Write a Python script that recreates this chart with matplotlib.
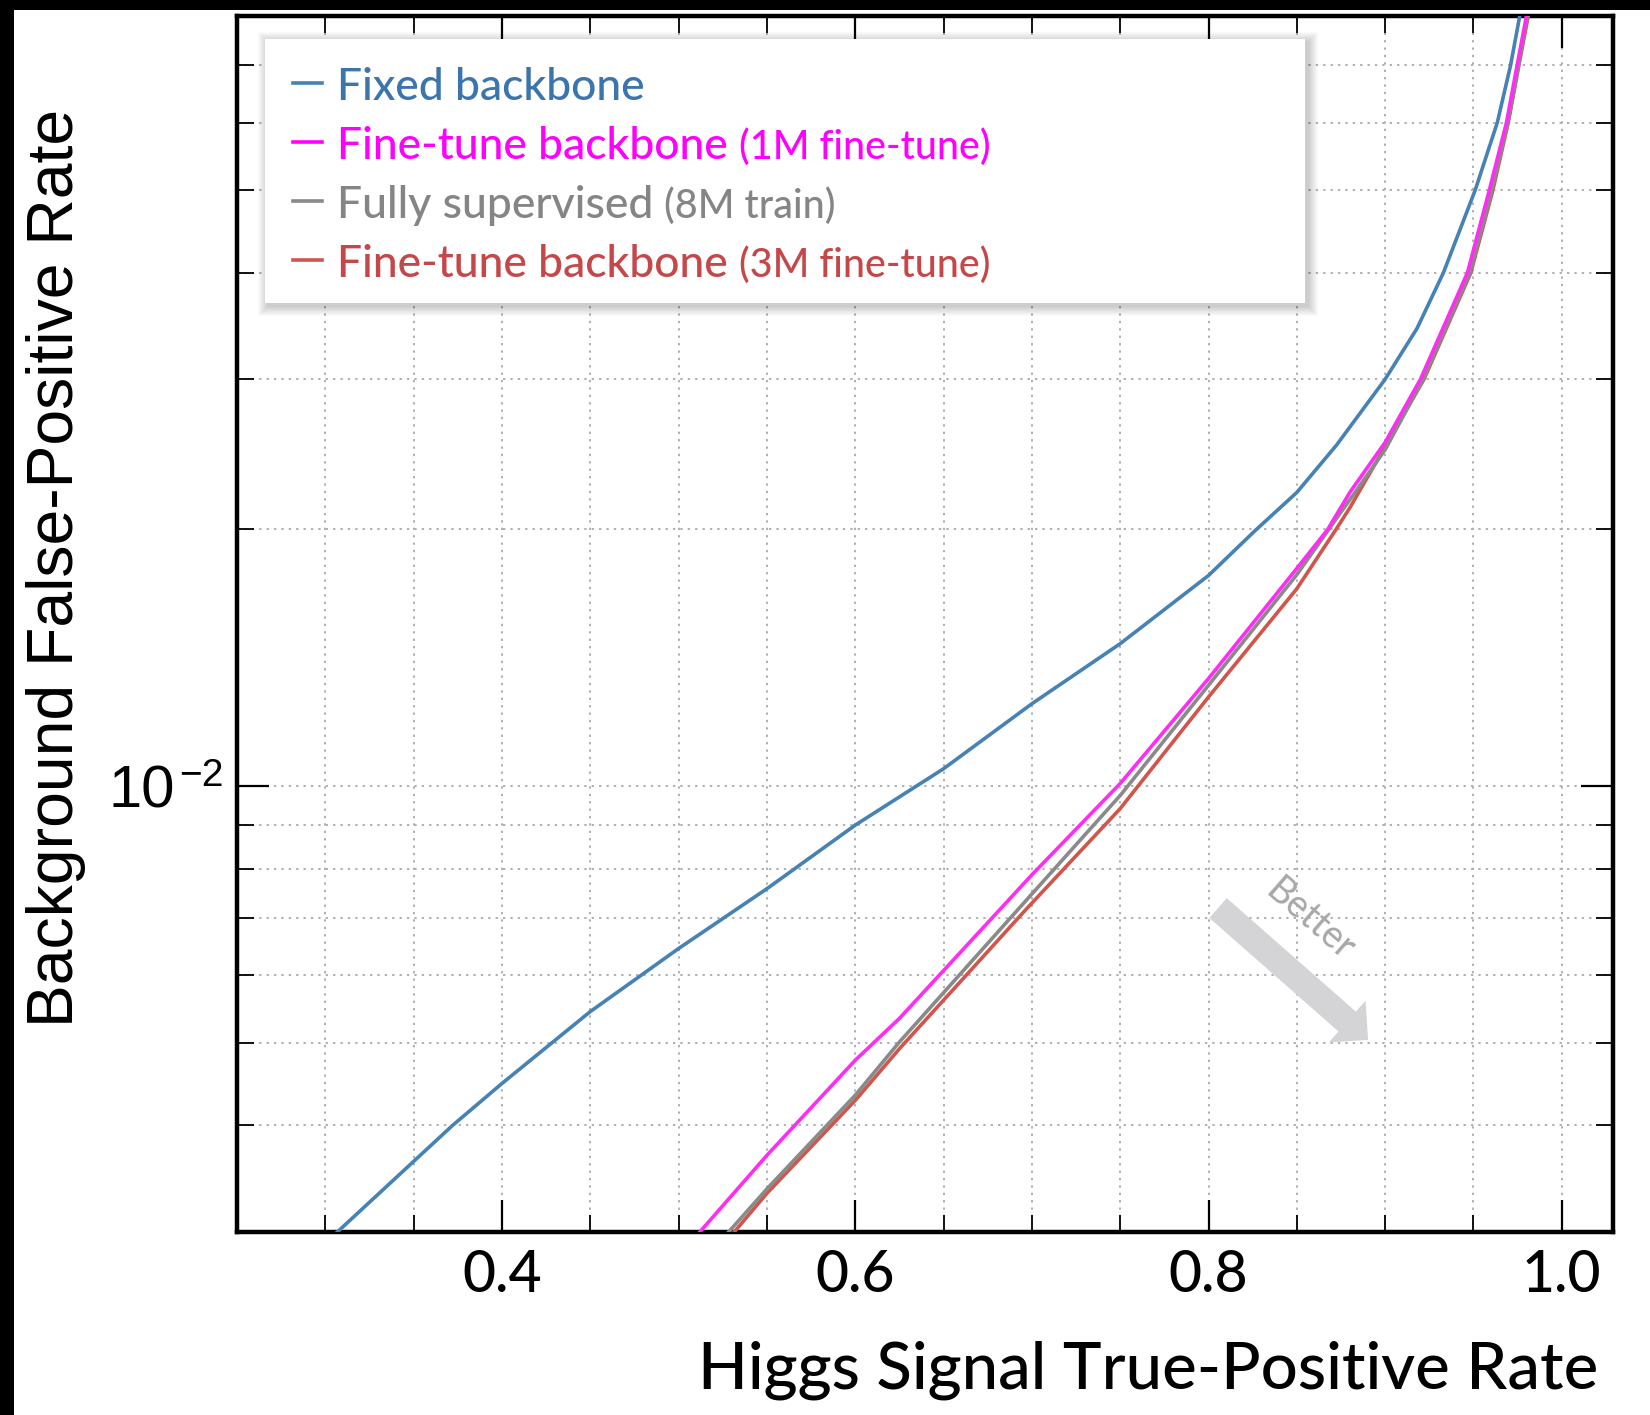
import matplotlib
matplotlib.use("Agg")
import matplotlib.pyplot as plt
from matplotlib.patches import Rectangle, FancyArrowPatch, ArrowStyle
from matplotlib.lines import Line2D
from matplotlib.ticker import MultipleLocator, FixedLocator, FixedFormatter, NullFormatter

# ---------------------------------------------------------------- data
tpr_fixed = [0.3068, 0.35, 0.372, 0.40, 0.45, 0.50, 0.55, 0.60, 0.65, 0.70, 0.75,
             0.80, 0.826, 0.85, 0.8724, 0.90, 0.918, 0.933, 0.951, 0.9635, 0.971,
             0.9762]
fpr_fixed = [3.0e-3, 3.63e-3, 4.0e-3, 4.48e-3, 5.44e-3, 6.45e-3, 7.58e-3, 9.0e-3,
             1.048e-2, 1.249e-2, 1.469e-2, 1.766e-2, 1.99e-2, 2.21e-2, 2.51e-2,
             3.0e-2, 3.44e-2, 4.0e-2, 5.0e-2, 6.0e-2, 7.0e-2, 8.0e-2]

tpr_ft1m = [0.512, 0.55, 0.60, 0.625, 0.70, 0.75, 0.80, 0.85, 0.8675, 0.88,
            0.90, 0.920, 0.9466, 0.959, 0.9687, 0.9747, 0.980]
fpr_ft1m = [3.0e-3, 3.69e-3, 4.77e-3, 5.34e-3, 7.87e-3, 1.007e-2, 1.337e-2,
            1.80e-2, 2.0e-2, 2.21e-2, 2.53e-2, 3.0e-2, 4.0e-2, 5.0e-2, 6.0e-2,
            7.0e-2, 8.0e-2]

tpr_full = [0.5283, 0.55, 0.60, 0.625, 0.6925, 0.75, 0.80, 0.85, 0.90, 0.9215,
            0.948, 0.9605, 0.9695, 0.9755, 0.9805]
fpr_full = [3.0e-3, 3.37e-3, 4.34e-3, 5.01e-3, 7.18e-3, 9.75e-3, 1.313e-2, 1.77e-2,
            2.48e-2, 3.0e-2, 4.0e-2, 5.0e-2, 6.0e-2, 7.0e-2, 8.0e-2]

tpr_ft3m = [0.5315, 0.55, 0.60, 0.625, 0.697, 0.75, 0.80, 0.85, 0.8722, 0.880,
            0.922, 0.9485, 0.961, 0.9697, 0.9757, 0.981]
fpr_ft3m = [3.0e-3, 3.33e-3, 4.28e-3, 4.92e-3, 7.18e-3, 9.41e-3, 1.272e-2, 1.704e-2,
            2.0e-2, 2.12e-2, 3.0e-2, 4.0e-2, 5.0e-2, 6.0e-2, 7.0e-2, 8.0e-2]

legend_main = ["Fixed backbone", "Fine-tune backbone", "Fully supervised",
               "Fine-tune backbone"]
legend_note = ["", "(1M fine-tune)", "(8M train)", "(3M fine-tune)"]

x_major = [0.4, 0.6, 0.8, 1.0]
x_major_labels = ["0.4", "0.6", "0.8", "1.0"]
y_major = [1e-2]
y_major_base = ["10"]
y_major_exp = ["\u22122"]

x_label = "Higgs Signal True-Positive Rate"
y_label = "Background False-Positive Rate"
arrow_text = "Better"

# ---------------------------------------------------------------- style
C_BLUE, C_MAG, C_GRAY, C_RED = "#4682b4", "#ff2cf4", "#8a8a8a", "#d0554b"
T_BLUE, T_MAG, T_GRAY, T_RED = "#3c74ad", "#ff00ff", "#858585", "#c5474a"
SANS_NARROW = ["Lato", "DejaVu Sans"]
SANS_ARIAL = ["Liberation Sans", "DejaVu Sans"]
TEXT_WEIGHT = 500

W, H, DPI = 1650, 1415, 100
fig = plt.figure(figsize=(W / DPI, H / DPI), dpi=DPI, facecolor="white")

# plot area in pixels (left, top, right, bottom)
AX_L, AX_T, AX_R, AX_B = 237, 16, 1613, 1232
ax = fig.add_axes([AX_L / W, 1 - AX_B / H, (AX_R - AX_L) / W, (AX_B - AX_T) / H])

LW = 2.6
ax.plot(tpr_ft3m, fpr_ft3m, color=C_RED, lw=LW, zorder=3)
ax.plot(tpr_full, fpr_full, color=C_GRAY, lw=LW, zorder=4)
ax.plot(tpr_ft1m, fpr_ft1m, color=C_MAG, lw=LW, zorder=5)
ax.plot(tpr_fixed, fpr_fixed, color=C_BLUE, lw=LW, zorder=6)

ax.set_yscale("log")
ax.set_xlim(0.25, 1.029)
ax.set_ylim(3.0e-3, 8.0e-2)

ax.xaxis.set_major_locator(FixedLocator(x_major))
ax.xaxis.set_major_formatter(FixedFormatter(x_major_labels))
ax.xaxis.set_minor_locator(MultipleLocator(0.05))
ax.yaxis.set_major_locator(FixedLocator(y_major))
ax.yaxis.set_major_formatter(NullFormatter())
ax.yaxis.set_minor_formatter(NullFormatter())

ax.tick_params(which="both", direction="in", top=True, right=True, color="black")
ax.tick_params(which="major", length=23, width=1.6)
ax.tick_params(which="minor", length=12, width=1.3)
ax.tick_params(axis="x", which="major", labelsize=41, pad=12,
               labelfontfamily="Lato")
for lab in ax.get_xticklabels():
    lab.set_fontweight(TEXT_WEIGHT)

# power-of-ten label on the y axis: base and raised exponent
for val, base, exp in zip(y_major, y_major_base, y_major_exp):
    ax.annotate(base, xy=(0, val), xycoords=("axes fraction", "data"),
                xytext=(-62, -21), textcoords="offset pixels", ha="right",
                va="baseline", fontsize=43, family=SANS_ARIAL, color="black",
                annotation_clip=False)
    ax.annotate(exp, xy=(0, val), xycoords=("axes fraction", "data"),
                xytext=(-58, 0), textcoords="offset pixels", ha="left",
                va="baseline", fontsize=28, family=SANS_ARIAL, color="black",
                annotation_clip=False)

for s in ax.spines.values():
    s.set_linewidth(3.2)
    s.set_color("black")

ax.grid(True, which="both", color="#b0b0b0", linestyle=(0, (1.2, 2.6)),
        linewidth=1.4, zorder=0)
ax.set_axisbelow(True)

# "Better" arrow
ax.add_patch(FancyArrowPatch(
    posA=(0.713, 0.2664), posB=(0.822, 0.158), transform=ax.transAxes,
    arrowstyle=ArrowStyle.Simple(head_length=20, head_width=40, tail_width=19),
    mutation_scale=1, color="#d4d4d6", lw=0, shrinkA=0, shrinkB=0, zorder=2))
ax.text(0.780, 0.2566, arrow_text, transform=ax.transAxes, rotation=-41,
        rotation_mode="anchor", ha="center", va="center", fontsize=27,
        color="#a8a8a8", family=SANS_NARROW, zorder=2)

# ---------------------------------------------------------------- text helpers
renderer = fig.canvas.get_renderer()


def fit_size(text, target_px, family, weight="normal"):
    probe = fig.text(0, 0, text, fontsize=20, family=family, fontweight=weight)
    w = probe.get_window_extent(renderer=renderer).width
    probe.remove()
    return 20.0 * target_px / w


def fx(px):
    return px / W


def fy(py):
    return 1 - py / H


def px_rect(x0, y0, x1, y1, **kw):
    return Rectangle((fx(x0), fy(y1)), (x1 - x0) / W, (y1 - y0) / H,
                     transform=fig.transFigure, **kw)


# axis titles
xl_size = fit_size(x_label, 902, SANS_NARROW, TEXT_WEIGHT)
fig.text(fx(1598), fy(1389), x_label, ha="right", va="baseline",
         fontsize=xl_size, family=SANS_NARROW, fontweight=TEXT_WEIGHT,
         color="black")
yl_size = fit_size(y_label, 915, SANS_ARIAL)
fig.text(fx(56), fy(568), y_label, ha="center", va="center", rotation=90,
         fontsize=yl_size, family=SANS_ARIAL, color="black")

# legend panel with soft shadow
BX0, BY0, BX1, BY1 = 265, 39, 1305, 303
for k in range(10, 0, -1):
    fig.add_artist(px_rect(BX0 - k + 3, BY0 - k + 3, BX1 + k + 3, BY1 + k + 3,
                           facecolor="black", alpha=0.02, lw=0, zorder=5))
fig.add_artist(px_rect(BX0, BY0, BX1, BY1, facecolor="white", lw=0, zorder=6))

main_size = fit_size("Fine-tune backbone", 392, SANS_NARROW, TEXT_WEIGHT)
note_size = fit_size("(1M fine-tune)", 252, SANS_NARROW, TEXT_WEIGHT)
text_colors = [T_BLUE, T_MAG, T_GRAY, T_RED]
dash_colors = [C_BLUE, T_MAG, C_GRAY, C_RED]
baselines = [100, 159, 218, 277]
for main, note, tc, dc, yb in zip(legend_main, legend_note, text_colors,
                                  dash_colors, baselines):
    fig.add_artist(Line2D([fx(293), fx(322)], [fy(yb - 17), fy(yb - 17)],
                          color=dc, lw=2.6, transform=fig.transFigure, zorder=7))
    t = fig.text(fx(337), fy(yb), main, ha="left", va="baseline",
                 fontsize=main_size, family=SANS_NARROW, fontweight=TEXT_WEIGHT,
                 color=tc, zorder=7)
    if note:
        bb = t.get_window_extent(renderer=renderer)
        fig.text((bb.x1 + 11) / W, fy(yb), note, ha="left", va="baseline",
                 fontsize=note_size, family=SANS_NARROW, fontweight=TEXT_WEIGHT,
                 color=tc, zorder=7)

# dark frame edges at the top and left
fig.add_artist(px_rect(0, 0, W, 10, facecolor="black", lw=0, zorder=10))
fig.add_artist(px_rect(0, 0, 14, H, facecolor="black", lw=0, zorder=10))

fig.savefig("out.png", dpi=DPI, facecolor="white")
